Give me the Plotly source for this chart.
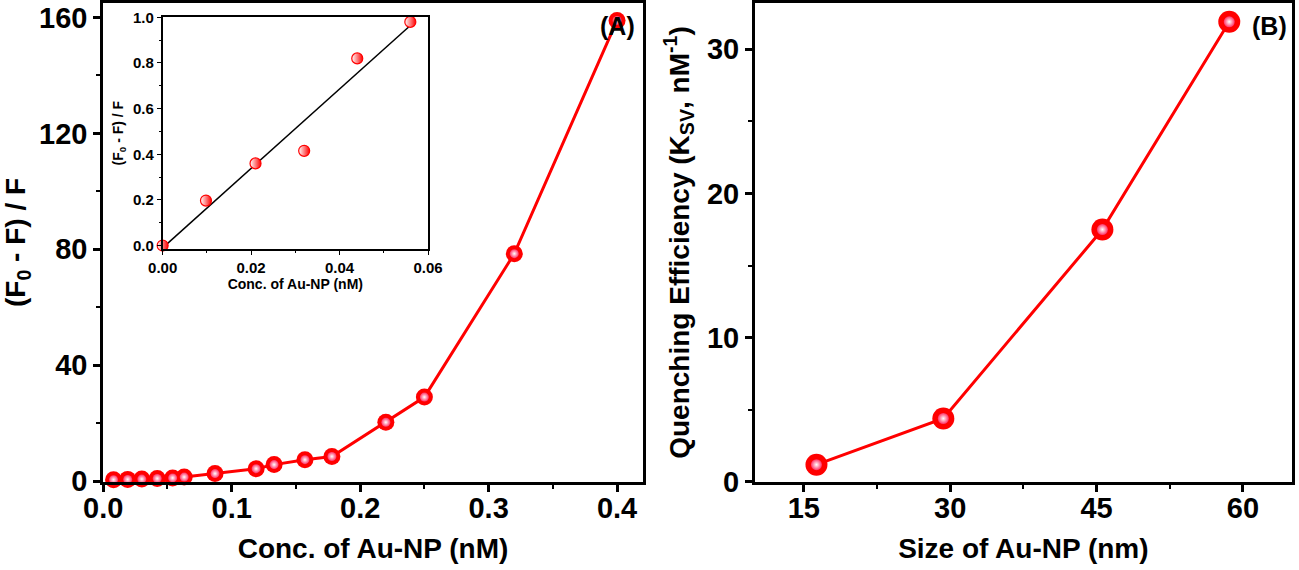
import plotly.graph_objects as go

# panel A: quenching vs concentration
conc_nm = [0.008, 0.019, 0.030, 0.042, 0.054, 0.063, 0.087, 0.119, 0.133,
           0.157, 0.178, 0.220, 0.250, 0.320, 0.400]
f_ratio = [0.5, 0.6, 0.7, 0.9, 1.1, 1.4, 2.6, 4.3, 5.7,
           7.4, 8.5, 20.3, 29.0, 78.5, 159.0]

# inset: low concentration linear range
inset_conc = [0.0, 0.0098, 0.021, 0.032, 0.044, 0.056]
inset_ratio = [0.0, 0.197, 0.36, 0.415, 0.82, 0.98]
fit_conc = [0.0, 0.056]
fit_ratio = [-0.01, 0.964]

# panel B: Ksv vs particle size
size_nm = [16.3, 29.3, 45.6, 58.6]
ksv = [1.2, 4.4, 17.5, 31.9]

RED = "#ff0000"
FONT = "Liberation Sans, Arial, sans-serif"

fig = go.Figure()

# panel A
fig.add_trace(go.Scatter(x=conc_nm, y=f_ratio, mode="lines+markers",
                         line=dict(color=RED, width=3),
                         marker=dict(size=17, color=RED),
                         cliponaxis=False, xaxis="x", yaxis="y"))
fig.add_trace(go.Scatter(x=conc_nm, y=f_ratio, mode="markers",
                         marker=dict(size=9, color="#ff3366",
                                     gradient=dict(type="radial", color="white")),
                         cliponaxis=False, xaxis="x", yaxis="y"))

# inset
fig.add_trace(go.Scatter(x=fit_conc, y=fit_ratio, mode="lines",
                         line=dict(color="black", width=1.5),
                         xaxis="x3", yaxis="y3"))
fig.add_trace(go.Scatter(x=inset_conc, y=inset_ratio, mode="markers",
                         marker=dict(size=11, color="white",
                                     gradient=dict(type="horizontal", color=RED),
                                     line=dict(color=RED, width=1.2)),
                         cliponaxis=False, xaxis="x3", yaxis="y3"))

# panel B
fig.add_trace(go.Scatter(x=size_nm, y=ksv, mode="lines+markers",
                         line=dict(color=RED, width=3),
                         marker=dict(size=22, color=RED),
                         cliponaxis=False, xaxis="x2", yaxis="y2"))
fig.add_trace(go.Scatter(x=size_nm, y=ksv, mode="markers",
                         marker=dict(size=11, color="#ff3366",
                                     gradient=dict(type="radial", color="white")),
                         cliponaxis=False, xaxis="x2", yaxis="y2"))

main_ax = dict(showline=True, linecolor="black", linewidth=3, mirror=True,
               ticks="outside", ticklen=7, tickwidth=2.5, tickcolor="black",
               showgrid=False, zeroline=False, automargin=False,
               tickfont=dict(family=FONT, size=29, color="black", weight="bold"),
               title_font=dict(family=FONT, size=28, color="black", weight="bold"))
inset_ax = dict(showline=True, linecolor="black", linewidth=1.5, mirror=True,
                ticks="outside", ticklen=4, tickwidth=1.2, tickcolor="black",
                showgrid=False, zeroline=False, automargin=False,
                tickfont=dict(family=FONT, size=15, color="black", weight="bold"),
                title_font=dict(family=FONT, size=14, color="black", weight="bold"))

fig.update_layout(
    width=1299, height=570,
    margin=dict(l=0, r=0, t=0, b=0),
    paper_bgcolor="white", plot_bgcolor="white",
    showlegend=False,
    xaxis=dict(main_ax, domain=[0.0795, 0.4948], range=[0, 0.42],
               dtick=0.1, tickformat=".1f", ticklabelstandoff=-9,
               minor=dict(dtick=0.05, ticks="outside", ticklen=4, tickcolor="black", tickwidth=2),
               title=dict(text="Conc. of Au-NP (nM)", standoff=16), anchor="y"),
    yaxis=dict(main_ax, domain=[0.1544, 0.9947], range=[-0.3, 165],
               dtick=40,
               minor=dict(dtick=20, ticks="outside", ticklen=4, tickcolor="black", tickwidth=2),
               title=dict(text="(F<sub>0</sub> - F) / F", standoff=24), anchor="x"),
    xaxis2=dict(main_ax, domain=[0.5812, 0.9944], range=[10, 65],
                tickvals=[15, 30, 45, 60], ticklabelstandoff=-9,
                minor=dict(tickvals=[22.5, 37.5, 52.5], ticks="outside", ticklen=4,
                           tickcolor="black", tickwidth=2),
                title=dict(text="Size of Au-NP (nm)", standoff=16), anchor="y2"),
    yaxis2=dict(main_ax, domain=[0.1544, 0.9947], range=[0, 33.2],
                dtick=10,
                minor=dict(dtick=5, ticks="outside", ticklen=4, tickcolor="black", tickwidth=2),
                title=dict(text="Quenching Efficiency (K<sub>SV</sub>, nM<sup>-1</sup>)", standoff=10),
                anchor="x2"),
    xaxis3=dict(inset_ax, domain=[0.1252, 0.3295], range=[0, 0.06],
                dtick=0.02, tickformat=".2f",
                minor=dict(dtick=0.01, ticks="outside", ticklen=2, tickcolor="black", tickwidth=1),
                title=dict(text="Conc. of Au-NP (nM)", standoff=2), anchor="y3"),
    yaxis3=dict(inset_ax, domain=[0.5632, 0.9696], range=[-0.015, 1.0],
                dtick=0.2, tickformat=".1f",
                minor=dict(dtick=0.1, ticks="outside", ticklen=2, tickcolor="black", tickwidth=1),
                title=dict(text="(F<sub>0</sub> - F) / F", standoff=6), anchor="x3"),
    annotations=[
        dict(text="(A)", x=0.99, y=0.985, xref="x domain", yref="y domain",
             xanchor="right", yanchor="top", showarrow=False,
             font=dict(family=FONT, size=25, color="black", weight="bold")),
        dict(text="(B)", x=0.995, y=0.985, xref="x2 domain", yref="y2 domain",
             xanchor="right", yanchor="top", showarrow=False,
             font=dict(family=FONT, size=25, color="black", weight="bold")),
    ],
)

# drop the default page margin so the figure sits at the window corner
fig.write_html("out.html", config={"displayModeBar": False},
               post_script="document.body.style.margin='0';")
